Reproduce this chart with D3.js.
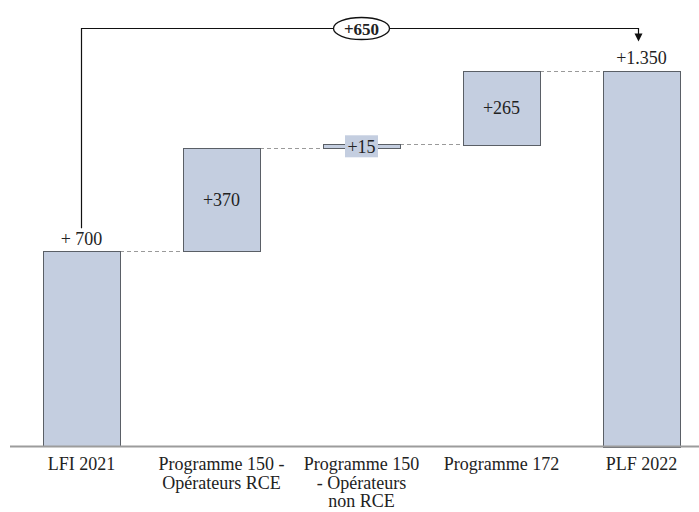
<!DOCTYPE html>
<html>
<head>
<meta charset="utf-8">
<script src="https://cdn.jsdelivr.net/npm/d3@7"></script>
<style>
  html, body { margin: 0; padding: 0; background: #fff; }
  svg { display: block; }
  text { font-family: "Liberation Serif", "DejaVu Serif", serif; fill: #222; }
</style>
</head>
<body>
<svg id="chart" width="699" height="512"></svg>
<script>
// Bridge from LFI 2021 to PLF 2022 (waterfall)
const categories = ["LFI 2021", "Programme 150 - Opérateurs RCE", "Programme 150 - Opérateurs non RCE", "Programme 172", "PLF 2022"];
const categoryLines = [
  ["LFI 2021"],
  ["Programme 150 -", "Opérateurs RCE"],
  ["Programme 150", "- Opérateurs", "non RCE"],
  ["Programme 172"],
  ["PLF 2022"]
];
const values = [700, 370, 15, 265, 1350];
const kinds = ["total", "delta", "delta", "delta", "total"];
const valueLabels = ["+ 700", "+370", "+15", "+265", "+1.350"];
const totalChange = 650;
const totalChangeLabel = "+650";

const svg = d3.select("#chart");
const baseY = 446;

const x = d3.scaleBand()
  .domain(categories)
  .range([11.5, 711.5])
  .paddingInner(0.45)
  .paddingOuter(0.225);

const y = d3.scaleLinear()
  .domain([0, 1350])
  .range([baseY, 70.5]);

// running start/end of each step
let run = 0;
const steps = categories.map((c, i) => {
  let start, end;
  if (kinds[i] === "total") { start = 0; end = values[i]; run = values[i]; }
  else { start = run; end = run + values[i]; run = end; }
  return { cat: c, start, end, i };
});

const fill = "#c4cee0";
const stroke = "#5a5f66";

// connectors between consecutive steps
for (let i = 0; i < steps.length - 1; i++) {
  const level = steps[i].end;
  svg.append("line")
    .attr("x1", x(steps[i].cat) + x.bandwidth())
    .attr("x2", x(steps[i + 1].cat))
    .attr("y1", Math.round(y(level)) + 0.5)
    .attr("y2", Math.round(y(level)) + 0.5)
    .attr("stroke", "#9a9a9a")
    .attr("stroke-width", 1)
    .attr("stroke-dasharray", "4,3");
}

// bars
svg.selectAll("rect.bar").data(steps).join("rect")
  .attr("class", "bar")
  .attr("x", d => Math.round(x(d.cat)) + 0.5)
  .attr("width", Math.round(x.bandwidth()))
  .attr("y", d => Math.round(y(Math.max(d.start, d.end))) + 0.5)
  .attr("height", d => Math.max(1, Math.round(Math.abs(y(d.start) - y(d.end)))))
  .attr("fill", fill)
  .attr("stroke", stroke)
  .attr("stroke-width", 1);

// baseline axis
svg.append("line")
  .attr("x1", 10).attr("x2", 699)
  .attr("y1", baseY + 0.5).attr("y2", baseY + 0.5)
  .attr("stroke", "#9c9c9c").attr("stroke-width", 2);

// value labels
steps.forEach((d, i) => {
  const cx = x(d.cat) + x.bandwidth() / 2;
  const mid = (y(d.start) + y(d.end)) / 2;
  let ty;
  if (kinds[i] === "total") ty = y(d.end) - 6.5;
  else ty = mid + 6.5;
  if (i === 2) {
    const bw = 33, bh = 22;
    svg.append("rect")
      .attr("x", cx - bw / 2).attr("y", mid - bh / 2)
      .attr("width", bw).attr("height", bh)
      .attr("fill", fill);
  }
  svg.append("text")
    .attr("x", cx).attr("y", ty)
    .attr("text-anchor", "middle")
    .attr("font-size", 18)
    .text(valueLabels[i]);
});

// overall change bracket
const first = steps[0], last = steps[steps.length - 1];
const x0 = x(first.cat) + x.bandwidth() / 2;
const x1 = x(last.cat) + x.bandwidth() / 2 - 3;
const topY = 28.5;
svg.append("path")
  .attr("d", `M${x0},${y(first.end) - 23}V${topY}H${x1}V${y(last.end) - 36}`)
  .attr("fill", "none").attr("stroke", "#111").attr("stroke-width", 1.2);
svg.append("path")
  .attr("d", `M${x1 - 4},${y(last.end) - 37}L${x1 + 4},${y(last.end) - 37}L${x1},${y(last.end) - 29}Z`)
  .attr("fill", "#111");
const ex = (x(categories[2]) + x.bandwidth() / 2);
svg.append("ellipse")
  .attr("cx", ex).attr("cy", topY)
  .attr("rx", 28).attr("ry", 11)
  .attr("fill", "#fff").attr("stroke", "#111").attr("stroke-width", 1.3);
svg.append("text")
  .attr("x", ex).attr("y", topY + 6)
  .attr("text-anchor", "middle")
  .attr("font-size", 17).attr("font-weight", "bold")
  .text(totalChangeLabel);

// category labels
categoryLines.forEach((lines, i) => {
  const cx = x(categories[i]) + x.bandwidth() / 2;
  const t = svg.append("text")
    .attr("text-anchor", "middle")
    .attr("font-size", 18);
  lines.forEach((ln, j) => {
    t.append("tspan").attr("x", cx).attr("y", 470 + j * 18.5).text(ln);
  });
});
</script>
</body>
</html>
